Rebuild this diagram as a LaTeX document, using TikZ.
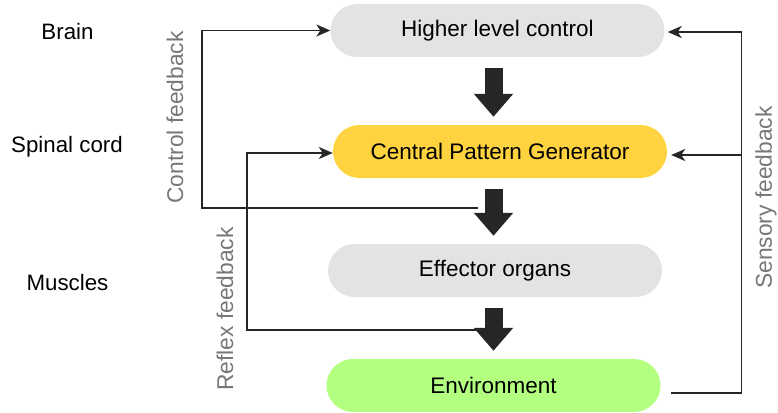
\documentclass[tikz,border=0pt]{standalone}
\usepackage{fontspec}
\setmainfont{Liberation Sans}
\usetikzlibrary{arrows.meta}

\definecolor{boxgray}{HTML}{E3E3E3}
\definecolor{cpgyellow}{HTML}{FFD23F}
\definecolor{envgreen}{HTML}{B3FF7F}
\definecolor{linedark}{HTML}{262626}
\definecolor{labelgray}{HTML}{777777}

\tikzset{
  levelbox/.style={rounded corners=26.5pt, minimum width=334pt, minimum height=53pt,
    inner sep=0pt, font=\fontsize{22.5}{26}\selectfont},
  rowlabel/.style={inner sep=0pt, font=\fontsize{22.3}{26}\selectfont},
  sidelabel/.style={inner sep=0pt, rotate=90, text=labelgray, font=\fontsize{22.8}{26}\selectfont},
  bigarrow/.style={draw=linedark, line width=18pt, shorten <=11pt, shorten >=8pt,
    -{Triangle[width=38pt,length=23pt]}},
  feedback/.style={draw=linedark, line width=1.5pt,
    -{Stealth[length=14pt,width=12pt,inset=4pt]}},
  plainline/.style={draw=linedark, line width=1.5pt}
}

\begin{document}
\begin{tikzpicture}[x=1pt,y=-1pt]
    \useasboundingbox (0,0) rectangle (778,412);

    % Levels
    \node[levelbox, fill=boxgray]   (hlc) at (497.5,30.5)  {Higher level control};
    \node[levelbox, fill=cpgyellow] (cpg) at (500,151.5)   {Central Pattern Generator};
    \node[levelbox, fill=boxgray]   (eff) at (495,270.5)   {Effector organs};
    \node[levelbox, fill=envgreen]  (env) at (493.5,385.5) {Environment};

    % Row labels
    \node[rowlabel] (brain)   at (67.5,32)  {Brain};
    \node[rowlabel] (spinal)  at (67,147)   {Spinal cord};
    \node[rowlabel] (muscles) at (67.5,283) {Muscles};

    % Main flow
    \draw[bigarrow] (hlc.south -| env) -- (cpg.north -| env);
    \draw[bigarrow] (cpg.south -| env) -- (eff.north -| env);
    \draw[bigarrow] (eff.south -| env) -- (env.north -| env);

    % Control feedback
    \coordinate (cfb) at (478,208);
    \coordinate (cbus) at (202,208);
    \draw[feedback] (cfb) -- (cbus) |- (hlc.west);
    \node[sidelabel] (ctrlfb) at (175,117.5) {Control feedback};

    % Reflex feedback
    \coordinate (rfb) at (478,330);
    \coordinate (rbus) at (247,330);
    \draw[feedback] (rfb) -- (rbus) |- ([yshift=-1.5pt]cpg.west);
    \node[sidelabel] (reflexfb) at (225,309) {Reflex feedback};

    % Sensory feedback
    \coordinate (sfb) at ([xshift=10pt,yshift=-7.5pt]env.east);
    \coordinate (sbus) at ([xshift=71pt]sfb);
    \draw[feedback, shorten >=3pt] (sfb) -- (sbus) |- ([yshift=-1.5pt]hlc.east);
    \draw[feedback, shorten >=4pt] ([yshift=-3.5pt]cpg.east -| sbus) -- ([yshift=-3.5pt]cpg.east);
    \node[sidelabel] (sensoryfb) at (766,197.5) {Sensory feedback};
\end{tikzpicture}
\end{document}
